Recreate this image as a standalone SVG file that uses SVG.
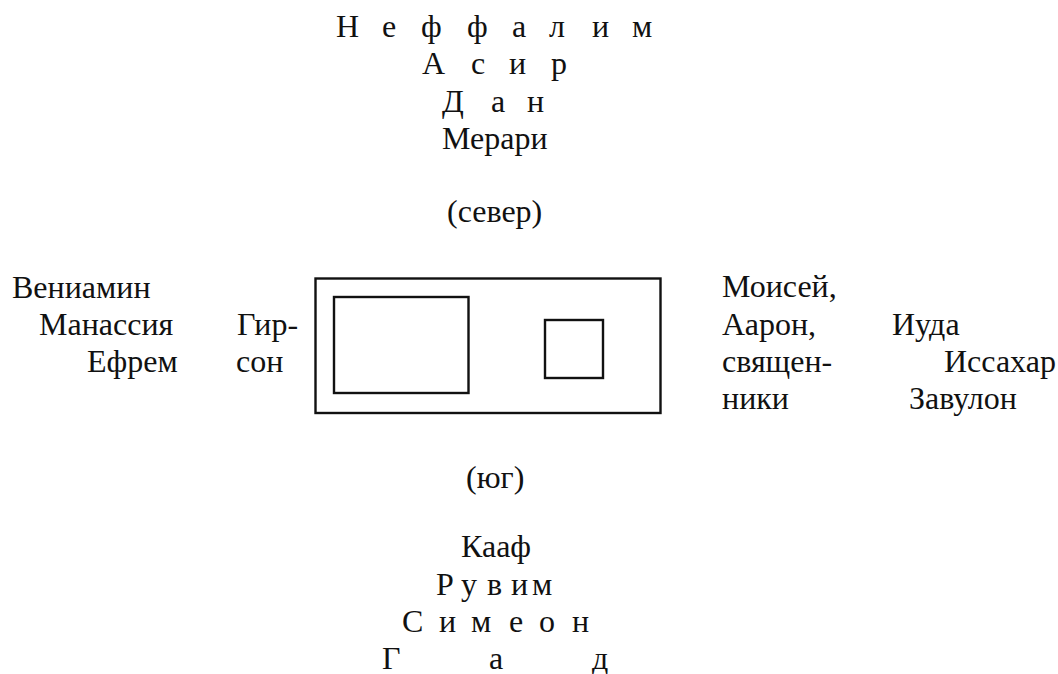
<svg xmlns="http://www.w3.org/2000/svg" width="1058" height="674" viewBox="0 0 1058 674">
<style>
text{font-family:"Liberation Serif","DejaVu Serif",serif;font-size:32px;fill:#111}
.box{fill:none;stroke:#111;stroke-width:2.4}
</style>
<rect width="1058" height="674" fill="#fff"/>
<g id="north">
<text x="336 360 382 402 421 445 467 490 512 530 549 570 592 612 632" y="37">Н е ф ф а л и м</text>
<text x="422 447 471 490 509 530 551" y="74">А с и р</text>
<text x="442 467 491 510 527" y="111.5">Д а н</text>
<text x="442" y="149">Мерари</text>
<text x="447" y="222">(север)</text>
</g>
<g id="tabernacle">
<rect class="box" x="315.5" y="278.5" width="345" height="134.5"/>
<rect class="box" x="334" y="297" width="134.5" height="96"/>
<rect class="box" x="545" y="320" width="58" height="58"/>
</g>
<g id="west">
<text x="12" y="298">Вениамин</text>
<text x="39" y="335">Манассия</text>
<text x="87" y="372">Ефрем</text>
<text x="237" y="335">Гир-</text>
<text x="236" y="372">сон</text>
</g>
<g id="east">
<text x="722" y="297">Моисей,</text>
<text x="722" y="335">Аарон,</text>
<text x="722" y="372">священ-</text>
<text x="722" y="409">ники</text>
<text x="892" y="335">Иуда</text>
<text x="944" y="372">Иссахар</text>
<text x="909" y="409">Завулон</text>
</g>
<g id="south">
<text x="466" y="488">(юг)</text>
<text x="461" y="557">Кааф</text>
<text x="436 450 461 475 487 500 511 522 532" y="595">Р у в и м</text>
<text x="402 421 439 456 471 490 509 525 539 556 572" y="632">С и м е о н</text>
<text x="382 436 489 540 592" y="669">Г а д</text>
</g>
</svg>
